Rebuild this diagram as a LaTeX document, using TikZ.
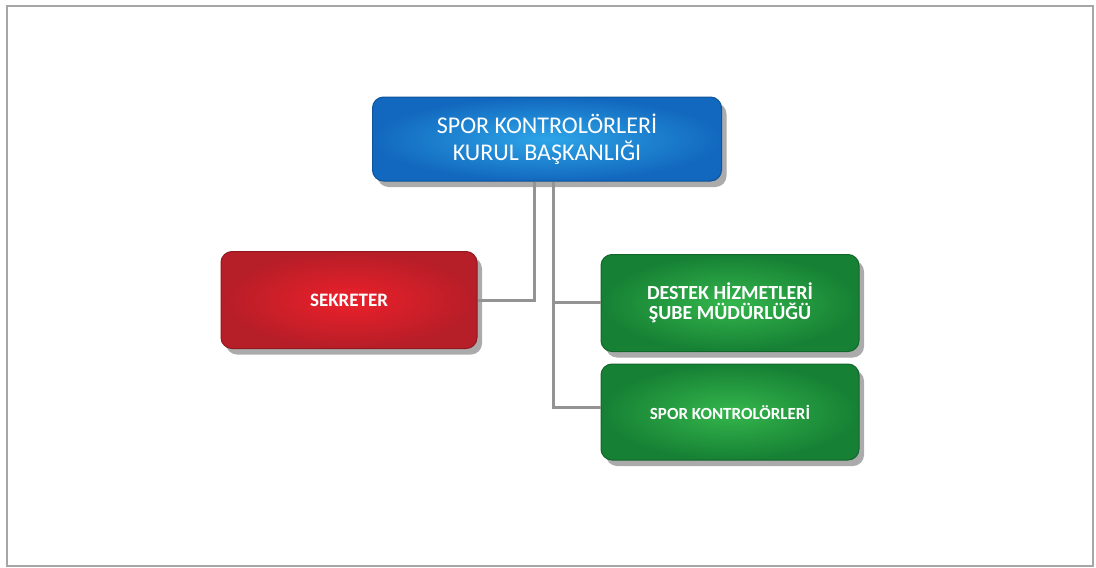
\documentclass[tikz,border=0pt]{standalone}
\usepackage{fontspec}
\setmainfont{Carlito}
\usetikzlibrary{shadows}

\definecolor{bluedark}{RGB}{18,104,190}
\definecolor{bluelight}{RGB}{45,165,232}
\definecolor{reddark}{RGB}{182,30,40}
\definecolor{redlight}{RGB}{236,32,42}
\definecolor{greendark}{RGB}{22,128,52}
\definecolor{greenlight}{RGB}{52,182,76}

\tikzset{
  box/.style={rounded corners=11pt, text=white, align=center,
    drop shadow={shadow xshift=5pt, shadow yshift=-6pt, fill=black!55, opacity=.6}},
  bluebox/.style={box, inner color=bluelight, outer color=bluedark, draw=bluedark!80!black, line width=1pt},
  redbox/.style={box, inner color=redlight, outer color=reddark, draw=reddark!80!black, line width=1pt},
  greenbox/.style={box, inner color=greenlight, outer color=greendark, draw=greendark!80!black, line width=1pt},
  link/.style={draw=gray!85, line width=3pt}
}

\begin{document}
\begin{tikzpicture}[x=1pt,y=-1pt]
\useasboundingbox (0,0) rectangle (1096,568);
\draw[gray!70, line width=2pt] (7,6) rectangle (1093,566);

% boxes
\node[bluebox, minimum width=349pt, minimum height=84pt, font=\fontsize{24}{27}\selectfont] (top) at (547,139) {SPOR KONTROLÖRLERİ\\KURUL BAŞKANLIĞI};
\node[redbox, minimum width=256pt, minimum height=97pt, font=\bfseries\fontsize{19}{22}\selectfont] (sek) at (349,300) {SEKRETER};
\node[greenbox, minimum width=258pt, minimum height=97pt, font=\bfseries\fontsize{20}{20}\selectfont] (dest) at (730,303) {DESTEK HİZMETLERİ\\ŞUBE MÜDÜRLÜĞÜ};
\node[greenbox, minimum width=258pt, minimum height=96pt, font=\bfseries\fontsize{17}{20}\selectfont] (spor) at (730,412) {SPOR KONTROLÖRLERİ};

% connectors
\coordinate (a) at (534,0);
\coordinate (b) at (553,0);
\draw[link] (top.south -| a) |- (sek.east);
\draw[link] (top.south -| b) |- (dest.west |- 0,302);
\draw[link] (top.south -| b) |- (spor.west |- 0,407);
\end{tikzpicture}
\end{document}
